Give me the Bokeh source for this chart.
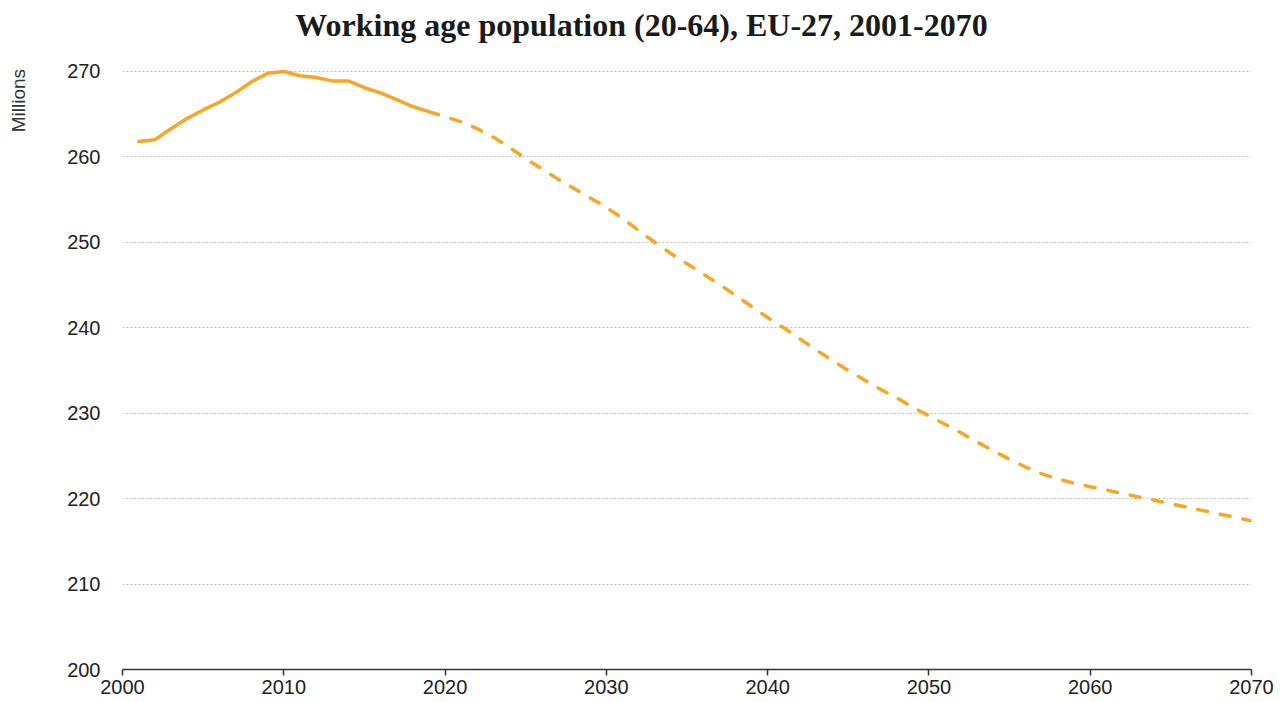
from bokeh.plotting import figure
from bokeh.models import FixedTicker, Label
from bokeh.layouts import row
from bokeh.embed import file_html
from bokeh.resources import INLINE
from math import pi

# Observed (Eurostat) working age population, millions
years_hist = list(range(2001, 2020))
pop_hist = [261.8, 262.0, 263.3, 264.5, 265.5, 266.4, 267.5, 268.8, 269.8, 270.0,
            269.5, 269.3, 268.9, 268.9, 268.1, 267.5, 266.7, 265.9, 265.3]

# Projection (EUROPOP2019), millions
years_proj = list(range(2019, 2071))
pop_proj = [265.3, 264.7, 264.1, 263.3, 262.3, 261.1, 259.8, 258.6, 257.4, 256.3,
            255.2, 254.1, 252.8, 251.4, 250.0, 248.7, 247.5, 246.3, 245.1, 243.8,
            242.5, 241.2, 240.0, 238.7, 237.4, 236.2, 235.0, 233.9, 232.8, 231.8,
            230.7, 229.7, 228.7, 227.7, 226.6, 225.6, 224.6, 223.7, 222.9, 222.3,
            221.8, 221.4, 221.0, 220.6, 220.2, 219.8, 219.4, 219.0, 218.6, 218.2,
            217.8, 217.4]

y_ticks = [200, 210, 220, 230, 240, 250, 260, 270]
x_ticks = [2000, 2010, 2020, 2030, 2040, 2050, 2060, 2070]

title_text = "Working age population (20-64), EU-27, 2001-2070"
y_label = "Millions"

ORANGE = "#F8A623"
TXT = "#222222"
H = 702
LEFT_W = 40

# narrow side panel holding the "Millions" unit label
side = figure(width=LEFT_W, height=H, output_backend="svg", toolbar_location=None,
              x_range=(0, LEFT_W), y_range=(0, H), x_axis_type=None, y_axis_type=None,
              min_border_left=0, min_border_right=0, min_border_top=0, min_border_bottom=0)
side.outline_line_color = None
side.grid.visible = False
side.add_layout(Label(x=18, y=H - 105, text=y_label, angle=pi / 2,
                      text_font="Liberation Sans", text_font_size="19px",
                      text_align="center", text_baseline="middle", text_color="#333333"))

# main chart: frame reaches the top edge so the title can sit inside it
p = figure(width=1280 - LEFT_W, height=H, output_backend="svg", toolbar_location=None,
           x_range=(2000, 2070), y_range=(200, 278.31),
           min_border_left=122 - LEFT_W, min_border_right=29, min_border_top=0, min_border_bottom=33)
p.outline_line_color = None
p.background_fill_color = "white"
p.border_fill_color = "white"

p.line(years_hist, pop_hist, line_color=ORANGE, line_width=3.5, line_join="round", line_cap="round")
p.line(years_proj, pop_proj, line_color=ORANGE, line_width=3.5, line_dash="10 13", line_cap="round")

p.add_layout(Label(x=2032.18, y=275.5, text=title_text,
                   text_font="Liberation Serif", text_font_style="bold", text_font_size="32px",
                   text_align="center", text_baseline="alphabetic", text_color="#1a1a1a"))

# axes
p.xaxis.ticker = FixedTicker(ticks=x_ticks)
p.xaxis.minor_tick_line_color = None
p.xaxis.major_tick_out = 6
p.xaxis.major_tick_in = 0
p.xaxis.major_tick_line_color = "#333333"
p.xaxis.major_tick_line_width = 1.5
p.xaxis.axis_line_color = "#333333"
p.xaxis.axis_line_width = 1.5
p.xaxis.major_label_standoff = 4
p.xaxis.major_label_text_font = "Liberation Sans"
p.xaxis.major_label_text_font_size = "20px"
p.xaxis.major_label_text_color = TXT

p.yaxis.ticker = FixedTicker(ticks=y_ticks)
p.yaxis.axis_line_color = None
p.yaxis.major_tick_line_color = None
p.yaxis.minor_tick_line_color = None
p.yaxis.major_tick_out = 0
p.yaxis.major_tick_in = 0
p.yaxis.major_label_standoff = 22
p.yaxis.major_label_text_font = "Liberation Sans"
p.yaxis.major_label_text_font_size = "20px"
p.yaxis.major_label_text_color = TXT

p.xgrid.grid_line_color = None
p.ygrid.ticker = FixedTicker(ticks=y_ticks[1:])
p.ygrid.grid_line_color = "#bdbdbd"
p.ygrid.grid_line_dash = "2 2"
p.ygrid.grid_line_width = 1

layout = row(side, p, spacing=0)
open("out.html", "w").write(file_html(layout, INLINE))
